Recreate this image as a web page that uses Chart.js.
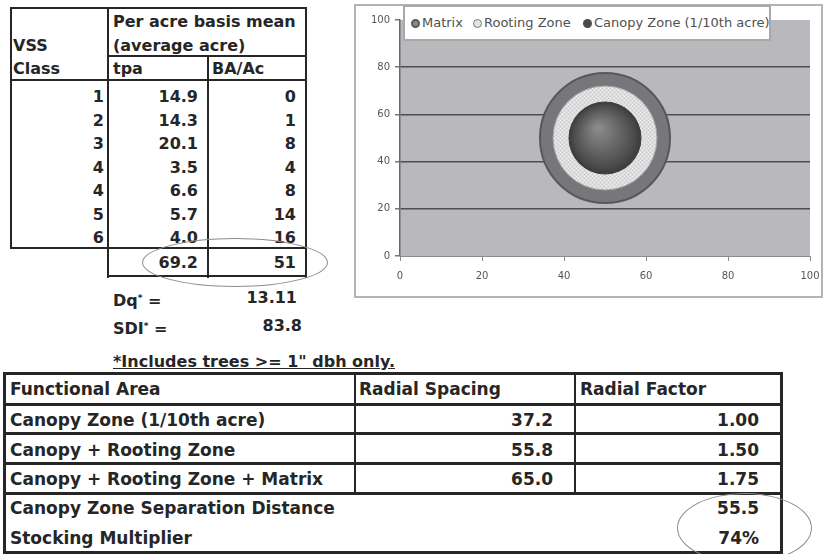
<!DOCTYPE html>
<html>
<head>
<meta charset="utf-8">
<script src="https://cdn.jsdelivr.net/npm/chart.js@4.4.0/dist/chart.umd.min.js"></script>
<style>
  html, body { margin: 0; padding: 0; background: #fff; }
  body { width: 825px; height: 554px; position: relative; overflow: hidden;
         font-family: "DejaVu Sans", sans-serif; font-weight: bold; color: #262626; }
  .ln { position: absolute; background: #262626; }
  .tx { position: absolute; white-space: nowrap; line-height: 20px; height: 20px; }
  .ell { position: absolute; border: 1.5px solid #8c8c8c; border-radius: 50%; box-sizing: border-box; }
  #chartBox { position: absolute; left: 354px; top: 4px; width: 465px; height: 290px;
              border: 2px solid #b4b4b4; background: #fff; }
  #legendBox { position: absolute; left: 403px; top: 5px; width: 364px; height: 32px;
               border: 2px solid #a8a8a8; background: #fff; font-weight: normal;
               font-size: 13px; color: #505050; line-height: 32px; }
  #legendBox span.item { position: absolute; top: 0; white-space: nowrap; }
  #legendBox i { display: inline-block; width: 9px; height: 9px; border-radius: 50%;
                 box-sizing: border-box; margin-right: 2px; vertical-align: -1px; }
  sup { font-size: 9px; vertical-align: 5px; }
</style>
</head>
<body>
<div id="chartBox"><canvas id="bubbleChart" width="465" height="290"></canvas></div>
<div id="legendBox"></div>

<script>
// ---- table data ----
var vssClass = ['1', '2', '3', '4', '4', '5', '6'];
var tpa = ['14.9', '14.3', '20.1', '3.5', '6.6', '5.7', '4.0'];
var baAc = ['0', '1', '8', '4', '8', '14', '16'];
var tpaTotal = '69.2';
var baTotal = '51';
var dqValue = '13.11';
var sdiValue = '83.8';

var functionalArea = ['Canopy Zone (1/10th acre)', 'Canopy + Rooting Zone', 'Canopy + Rooting Zone + Matrix'];
var radialSpacing = ['37.2', '55.8', '65.0'];
var radialFactor = ['1.00', '1.50', '1.75'];
var separationDistance = '55.5';
var stockingMultiplier = '74%';

// ---- chart data ----
var seriesNames = ['Matrix', 'Rooting Zone', 'Canopy Zone (1/10th acre)'];
var centerX = [50, 50, 50];
var centerY = [50, 50, 50];
var bubbleSize = [65, 52, 36];
var axisTicks = [0, 20, 40, 60, 80, 100];

function line(x, y, w, h) {
	var d = document.createElement('div');
	d.className = 'ln';
	d.style.cssText = 'left:' + x + 'px;top:' + y + 'px;width:' + w + 'px;height:' + h + 'px';
	document.body.appendChild(d);
}

function txt(html, x, cy, size, right) {
	var d = document.createElement('div');
	d.className = 'tx';
	d.innerHTML = html;
	d.style.fontSize = size + 'px';
	d.style.top = (cy - 10) + 'px';
	if (right) {
		d.style.left = (x - 300) + 'px';
		d.style.width = '300px';
		d.style.textAlign = 'right';
	} else {
		d.style.left = x + 'px';
	}
	document.body.appendChild(d);
}

function ellipse(x, y, w, h) {
	var d = document.createElement('div');
	d.className = 'ell';
	d.style.cssText = 'left:' + x + 'px;top:' + y + 'px;width:' + w + 'px;height:' + h + 'px';
	document.body.appendChild(d);
}

// top-left table
line(10, 7, 297, 2);
line(10, 7, 2, 242);
line(305, 7, 2, 271);
line(107, 7, 2, 271);
line(207, 55, 2, 223);
line(107, 55, 200, 2);
line(10, 79, 297, 2);
line(10, 247, 297, 2);
line(107, 275, 200, 2);

txt('Per acre basis mean', 113, 22, 16);
txt('(average acre)', 113, 46, 16);
txt('VSS', 13, 46, 16);
txt('Class', 13, 69, 16);
txt('tpa', 113, 69, 16);
txt('BA/Ac', 212, 69, 16);

for (var i = 0; i < vssClass.length; i++) {
	var cy = 97 + i * 23.5;
	txt(vssClass[i], 104, cy, 16, true);
	txt(tpa[i], 198, cy, 16, true);
	txt(baAc[i], 296, cy, 16, true);
}
txt(tpaTotal, 198, 263, 16, true);
txt(baTotal, 296, 263, 16, true);
ellipse(142, 238, 186, 49);

txt('Dq<sup>*</sup> =', 113, 298, 16);
txt(dqValue, 297, 298, 16, true);
txt('SDI<sup>*</sup> =', 113, 326, 16);
txt(sdiValue, 302, 326, 16, true);

txt('<span style="text-decoration:underline">*Includes trees &gt;= 1" dbh only.</span>', 113, 362, 16);

// bottom table
line(3, 372, 780, 3);
line(3, 403, 780, 3);
line(3, 432, 780, 3);
line(3, 462, 780, 3);
line(3, 492, 780, 3);
line(3, 551, 780, 3);
line(3, 372, 3, 182);
line(780, 372, 3, 182);
line(354, 372, 2, 122);
line(574, 372, 2, 122);

txt('Functional Area', 10, 389, 17);
txt('Radial Spacing', 359, 389, 17);
txt('Radial Factor', 580, 389, 17);
for (var j = 0; j < functionalArea.length; j++) {
	var ry = 420 + j * 29.5;
	txt(functionalArea[j], 10, ry, 17);
	txt(radialSpacing[j], 553, ry, 17, true);
	txt(radialFactor[j], 759, ry, 17, true);
}
txt('Canopy Zone Separation Distance', 10, 508, 17);
txt(separationDistance, 759, 508, 17, true);
txt('Stocking Multiplier', 10, 538, 17);
txt(stockingMultiplier, 759, 538, 17, true);
ellipse(677, 493, 135, 70);

// ---- chart ----
var matrixFill = '#77777b';
var rootFill = (function() {
	var c = document.createElement('canvas');
	c.width = 4; c.height = 4;
	var g = c.getContext('2d');
	g.fillStyle = '#dedede'; g.fillRect(0, 0, 4, 4);
	g.fillStyle = '#c8c8c8'; g.fillRect(0, 0, 1, 1); g.fillRect(2, 2, 1, 1);
	g.fillStyle = '#ececec'; g.fillRect(2, 0, 1, 1); g.fillRect(0, 2, 1, 1);
	return document.getElementById('bubbleChart').getContext('2d').createPattern(c, 'repeat');
})();

function sphereFill(ctx) {
	var chart = ctx.chart;
	if (!chart.chartArea || ctx.type !== 'data' || !chart.scales.x) return '#4a4a4a';
	var px = chart.scales.x.getPixelForValue(ctx.raw.x);
	var py = chart.scales.y.getPixelForValue(ctx.raw.y);
	var g = chart.ctx.createRadialGradient(px - 7, py - 10, 2, px, py, ctx.raw.r);
	g.addColorStop(0, '#8a8a8a');
	g.addColorStop(0.85, '#4a4a4a');
	g.addColorStop(1, '#3a3a3a');
	return g;
}

var fills = [matrixFill, rootFill, sphereFill];
var borders = ['#58585c', '#a4a4a4', '#3c3c3c'];
var legendMarks = ['background:#8a8a8a;border:2px solid #5a5a5a', 'background:#e4e4e4;border:1.5px solid #7a7a7a', 'background:#4a4a4a'];

var datasets = [];
for (var k = 0; k < seriesNames.length; k++) {
	datasets.push({
		label: seriesNames[k],
		data: [{ x: centerX[k], y: centerY[k], r: bubbleSize[k] }],
		backgroundColor: fills[k],
		borderColor: borders[k],
		borderWidth: k === 0 ? 2 : 1,
		hoverRadius: 0,
		order: seriesNames.length - k
	});
}

// html legend built from the series names
var legendPos = [6, 68, 178];
var lb = document.getElementById('legendBox');
for (var m = 0; m < seriesNames.length; m++) {
	var s = document.createElement('span');
	s.className = 'item';
	s.style.left = legendPos[m] + 'px';
	s.innerHTML = '<i style="' + legendMarks[m] + '"></i>' + seriesNames[m];
	lb.appendChild(s);
}

var plotBg = {
	id: 'plotBg',
	beforeDraw: function(chart) {
		var a = chart.chartArea, c = chart.ctx;
		c.save();
		c.fillStyle = '#b9b9bd';
		c.fillRect(a.left, a.top, a.right - a.left, a.bottom - a.top);
		c.restore();
	}
};

var tickFont = { family: 'DejaVu Sans', size: 10 };

new Chart(document.getElementById('bubbleChart').getContext('2d'), {
	type: 'bubble',
	data: { datasets: datasets },
	options: {
		responsive: false,
		animation: false,
		events: [],
		layout: { autoPadding: false, padding: { top: 14, right: 11, left: 0, bottom: 0 } },
		plugins: { legend: { display: false }, tooltip: { enabled: false } },
		scales: {
			x: {
				type: 'linear', min: 0, max: 100,
				afterBuildTicks: function(s) { s.ticks = axisTicks.map(function(v) { return { value: v }; }); },
				afterFit: function(s) { s.height = 40; s.paddingRight = 0; s.paddingLeft = 0; },
				ticks: { color: '#555', font: tickFont, padding: 9 },
				grid: { drawOnChartArea: false, color: '#8a8a8a', tickLength: 5, lineWidth: 1 },
				border: { color: '#8a8a8a', width: 1 }
			},
			y: {
				type: 'linear', min: 0, max: 100,
				afterBuildTicks: function(s) { s.ticks = axisTicks.map(function(v) { return { value: v }; }); },
				afterFit: function(s) { s.width = 44; s.paddingTop = 0; s.paddingBottom = 0; },
				ticks: { color: '#555', font: tickFont, padding: 5 },
				grid: {
					color: function(c) { return c.tick && (c.tick.value === 100 || c.tick.value === 0) ? 'rgba(0,0,0,0)' : '#4e4e4e'; },
					tickColor: '#777', tickLength: 5, lineWidth: 1.5
				},
				border: { color: '#6a6a6a', width: 1.5 }
			}
		}
	},
	plugins: [plotBg]
});
</script>
</body>
</html>
